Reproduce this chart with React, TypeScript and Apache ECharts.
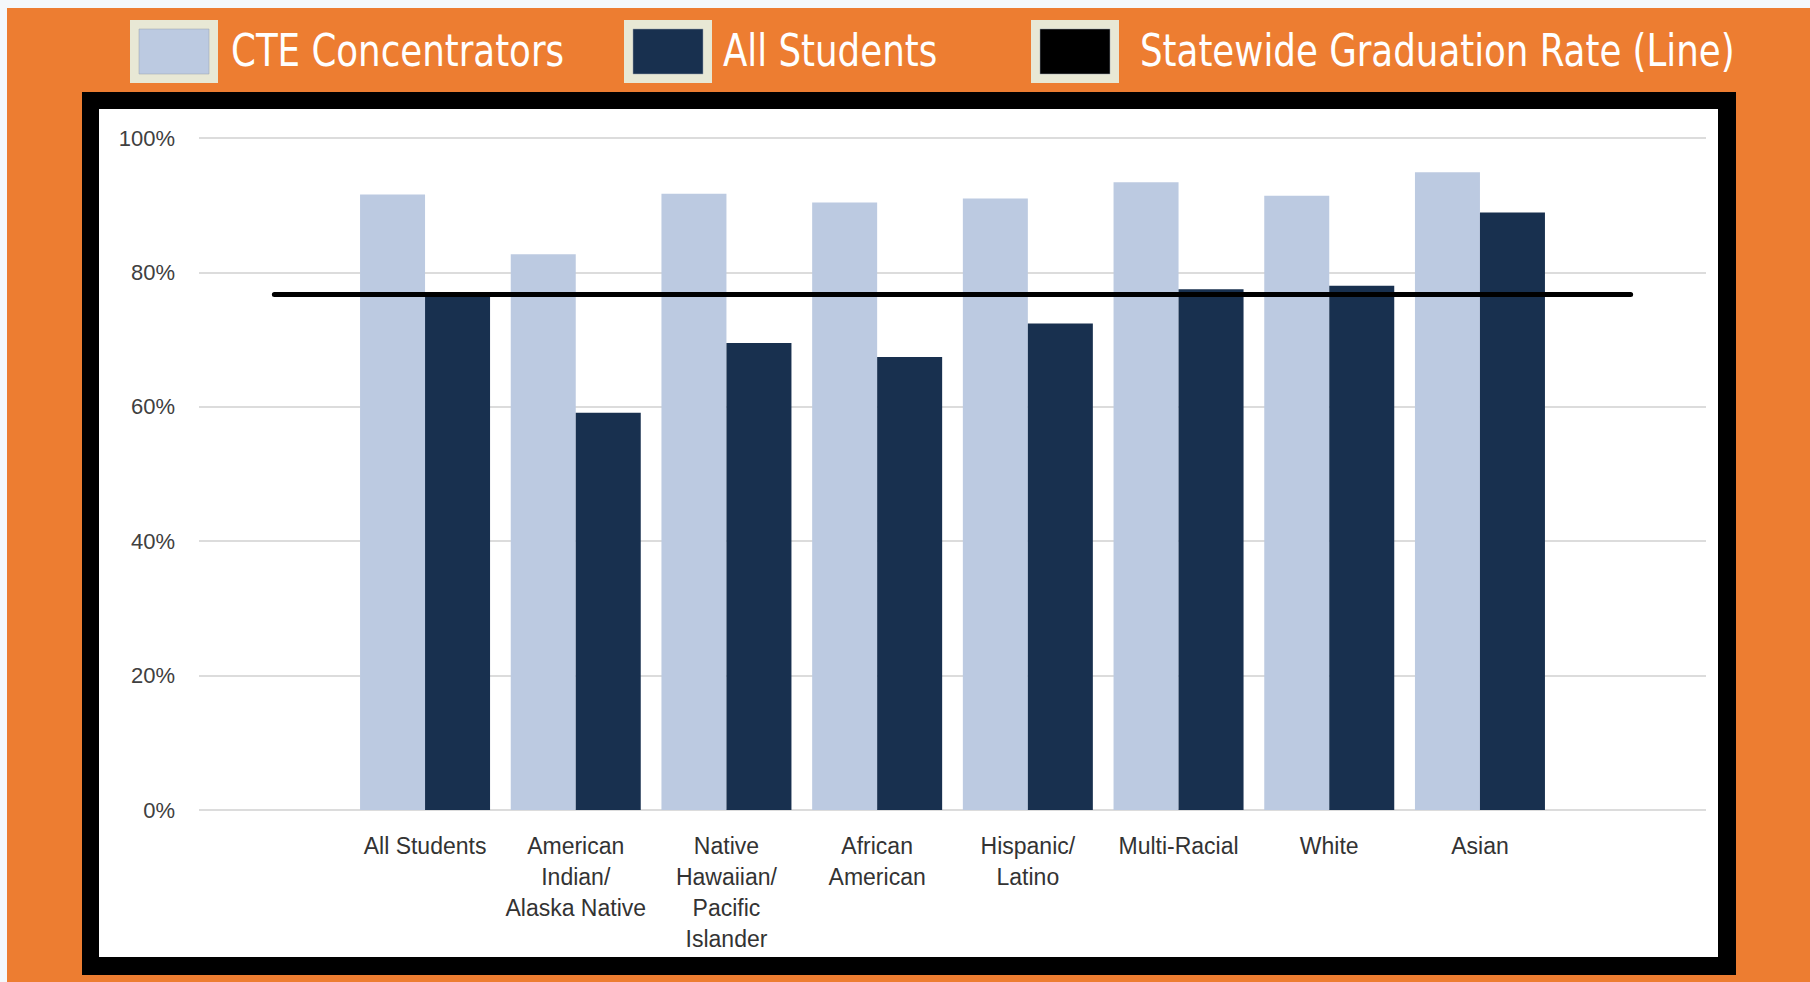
import React, { useEffect, useRef } from "react";
import * as echarts from "echarts";

const categories = [
  " ",
  "All Students",
  "American\nIndian/\nAlaska Native",
  "Native\nHawaiian/\nPacific\nIslander",
  "African\nAmerican",
  "Hispanic/\nLatino",
  "Multi-Racial",
  "White",
  "Asian",
  "  ",
];
const cteConcentrators = [null, 91.6, 82.7, 91.7, 90.4, 91.0, 93.4, 91.4, 94.9, null];
const allStudents = [null, 76.4, 59.1, 69.5, 67.4, 72.4, 77.5, 78.0, 88.9, null];
const statewideRate = [76.7, 76.7, 76.7, 76.7, 76.7, 76.7, 76.7, 76.7, 76.7, 76.7];
const seriesNames = ["CTE Concentrators", "All Students", "Statewide Graduation Rate (Line)"];

const ORANGE = "#ED7D31";
const LIGHT = "#BCCAE1";
const NAVY = "#18304F";
const CREAM = "#E8E8D5";
const LEGEND_FONT = "'Liberation Sans Narrow', 'DejaVu Sans Condensed', 'Arial Narrow', sans-serif";

export default function App() {
  const ref = useRef<HTMLDivElement>(null);
  useEffect(() => {
    document.body.style.margin = "0";
    if (!ref.current) return;
    const chart = echarts.init(ref.current, undefined, { renderer: "svg" });

    const legendBox = (x: number, fill: string) => [
      { type: "rect", z: -3, shape: { x, y: 20, width: 88, height: 63 }, style: { fill: CREAM } },
      { type: "rect", z: -2, shape: { x: x + 9, y: 29, width: 70, height: 45 }, style: { fill, stroke: "#9aa3ad", lineWidth: 0.5 } },
    ];
    const legendText = (x: number, text: string) => ({
      type: "text",
      z: -2,
      x,
      y: 51,
      scaleX: 0.9,
      style: { text, fill: "#ffffff", font: `44px ${LEGEND_FONT}`, verticalAlign: "middle", align: "left" },
    });

    chart.setOption({
      animation: false,
      backgroundColor: "#F4F8FB",
      graphic: [
        { type: "rect", z: -10, shape: { x: 7, y: 8, width: 1803, height: 974 }, style: { fill: ORANGE } },
        { type: "rect", z: -9, shape: { x: 82, y: 92, width: 1654, height: 883 }, style: { fill: "#000000" } },
        { type: "rect", z: -8, shape: { x: 99, y: 109, width: 1619, height: 848 }, style: { fill: "#ffffff" } },
        ...legendBox(130, LIGHT),
        legendText(231, seriesNames[0]),
        ...legendBox(624, NAVY),
        legendText(723, seriesNames[1]),
        ...legendBox(1031, "#000000"),
        legendText(1140, seriesNames[2]),
      ],
      grid: { left: 199, right: 104, top: 138, bottom: 172, containLabel: false },
      xAxis: {
        type: "category",
        data: categories,
        axisLine: { show: false },
        axisTick: { show: false },
        axisLabel: {
          interval: 0,
          margin: 20,
          color: "#333333",
          fontFamily: "'Liberation Sans', Arial, sans-serif",
          fontSize: 23,
          lineHeight: 31,
          align: "center",
          verticalAlign: "top",
        },
      },
      yAxis: {
        type: "value",
        min: 0,
        max: 100,
        interval: 20,
        axisLine: { show: false },
        axisTick: { show: false },
        splitLine: { lineStyle: { color: "#DCDCDC", width: 2 } },
        axisLabel: {
          formatter: "{value}%",
          margin: 24,
          color: "#404040",
          fontFamily: "'Liberation Sans', Arial, sans-serif",
          fontSize: 22,
        },
      },
      series: [
        {
          name: seriesNames[0],
          type: "bar",
          data: cteConcentrators,
          barWidth: 65,
          barGap: "0%",
          itemStyle: { color: LIGHT },
          z: 2,
        },
        {
          name: seriesNames[1],
          type: "bar",
          data: allStudents,
          barWidth: 65,
          barGap: "0%",
          itemStyle: { color: NAVY },
          z: 2,
        },
        {
          name: seriesNames[2],
          type: "line",
          data: statewideRate,
          symbol: "none",
          z: 5,
          lineStyle: { color: "#000000", width: 5, cap: "round" },
        },
      ],
    });
    return () => chart.dispose();
  }, []);
  return <div ref={ref} style={{ position: "absolute", left: 0, top: 0, width: 1810, height: 982 }} />;
}
